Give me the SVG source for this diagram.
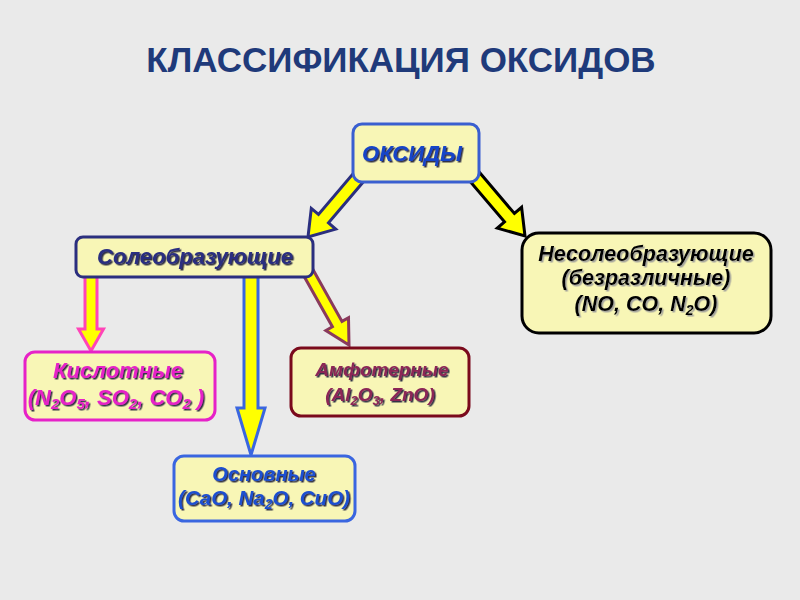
<svg xmlns="http://www.w3.org/2000/svg" width="800" height="600" viewBox="0 0 800 600">
<defs>
<filter id="sh" x="-10%" y="-20%" width="120%" height="150%">
<feDropShadow dx="1.5" dy="1.5" stdDeviation="0.4" flood-color="#1a1a3a" flood-opacity="0.9"/>
</filter>
<filter id="shl" x="-10%" y="-20%" width="120%" height="150%">
<feDropShadow dx="1.5" dy="1.5" stdDeviation="0.4" flood-color="#9a9a9a" flood-opacity="0.9"/>
</filter>
</defs>
<style>
.t{font-family:"Liberation Sans",Arial,sans-serif;font-weight:bold;font-style:italic;text-anchor:middle}
.box{fill:#F8F6B6;stroke-width:3}
.arr{fill:#FFFF00;stroke-width:3;stroke-linejoin:miter}
</style>
<rect width="800" height="600" fill="#EAEAEA"/>
<text x="401" y="72" font-family="Liberation Sans,Arial,sans-serif" font-weight="bold" font-size="35" fill="#1F3A7A" text-anchor="middle">КЛАССИФИКАЦИЯ ОКСИДОВ</text>

<g id="connectors">
<polygon class="arr" stroke="#2B2F7F" points="363,182.2 328.5,222.9 335.7,229.1 308,237 311.3,208.4 318.5,214.5 353,173.8"/>
<polygon class="arr" stroke="#000000" points="478.95,171.8 514.4,213.5 521.6,207.3 525,236 497.3,228.1 504.5,221.9 469.05,180.2"/>
<polygon class="arr" stroke="#FF44B8" points="97,270 97,329 103.5,329 91,351 78.5,329 85,329 85,270"/>
<polygon class="arr" stroke="#3A66E0" points="258,270 258,408 265,408 251,455 237,408 244,408 244,270"/>
<polygon class="arr" stroke="#8A3A5C" points="312.8,269.3 342,321.4 348.5,317.7 349,345 325.9,330.5 332.4,326.8 303.2,274.7"/>
</g>

<g id="oksidy">
<rect class="box" x="353" y="124" width="126" height="58" rx="9" stroke="#3A5FD0"/>
<text class="t" x="412" y="161" font-size="22" fill="#1844C8" filter="url(#sh)">ОКСИДЫ</text>
</g>

<g id="soleobr">
<rect class="box" x="76" y="237" width="237" height="40" rx="7" stroke="#2B2F7F"/>
<text class="t" x="195" y="264" font-size="22" fill="#2B2F80" filter="url(#sh)">Солеобразующие</text>
</g>

<g id="nesoleobr">
<rect class="box" x="522" y="233" width="249" height="100" rx="17" stroke="#000000"/>
<text class="t" x="646" y="261" font-size="21.5" fill="#000000" filter="url(#shl)">Несолеобразующие</text>
<text class="t" x="646" y="285" font-size="21.5" fill="#000000" filter="url(#shl)">(безразличные)</text>
<text class="t" x="646" y="311" font-size="21.5" fill="#000000" filter="url(#shl)">(NO, CO, N<tspan dy="4" font-size="14">2</tspan><tspan dy="-4">O)</tspan></text>
</g>

<g id="kislotnye">
<rect class="box" x="25" y="352" width="190" height="68" rx="10" stroke="#E622C8"/>
<text class="t" x="118" y="378" font-size="22" fill="#E622C8" filter="url(#sh)">Кислотные</text>
<text class="t" x="116" y="405" font-size="22" fill="#E622C8" filter="url(#sh)">(N<tspan dy="4" font-size="15">2</tspan><tspan dy="-4">O</tspan><tspan dy="4" font-size="15">5</tspan><tspan dy="-4">, SO</tspan><tspan dy="4" font-size="15">2</tspan><tspan dy="-4">, CO</tspan><tspan dy="4" font-size="15">2</tspan><tspan dy="-4"> )</tspan></text>
</g>

<g id="amfoternye">
<rect class="box" x="291" y="348" width="178" height="68" rx="10" stroke="#7A0A1C"/>
<text class="t" x="382" y="376" font-size="19" fill="#8B2557" filter="url(#sh)">Амфотерные</text>
<text class="t" x="380" y="401" font-size="19" fill="#8B2557" filter="url(#sh)">(Al<tspan dy="4" font-size="13">2</tspan><tspan dy="-4">O</tspan><tspan dy="4" font-size="13">3</tspan><tspan dy="-4">, ZnO)</tspan></text>
</g>

<g id="osnovnye">
<rect class="box" x="174" y="456" width="181" height="65" rx="10" stroke="#3A66E0"/>
<text class="t" x="264" y="481" font-size="20" fill="#1F4FD0" filter="url(#sh)">Основные</text>
<text class="t" x="264" y="505" font-size="20.5" fill="#1F4FD0" filter="url(#sh)">(CaO, Na<tspan dy="4" font-size="14">2</tspan><tspan dy="-4">O, CuO)</tspan></text>
</g>
</svg>
